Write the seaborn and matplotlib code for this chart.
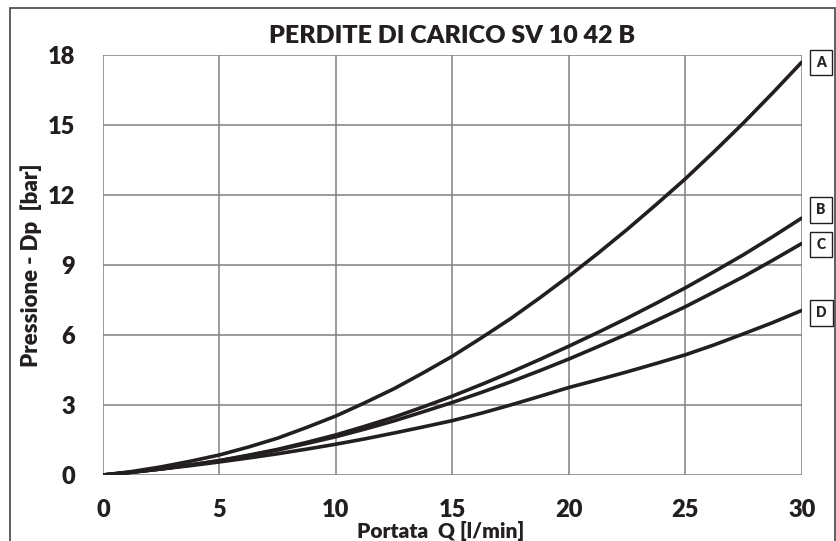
import pandas as pd
import seaborn as sns
import matplotlib.pyplot as plt
from matplotlib.patches import Rectangle

# portata Q [l/min]
portata = [0, 1.25, 2.5, 3.75, 5, 6.25, 7.5, 8.75, 10, 11.25, 12.5, 13.75, 15,
           16.25, 17.5, 18.75, 20, 21.25, 22.5, 23.75, 25, 26.25, 27.5, 28.75, 30]

# pressione Dp [bar]
curva_a = [0, 0.15, 0.35, 0.59, 0.86, 1.2, 1.58, 2.04, 2.53, 3.1, 3.7, 4.38, 5.09,
           5.88, 6.7, 7.59, 8.52, 9.5, 10.52, 11.59, 12.69, 13.87, 15.09, 16.37, 17.69]
curva_b = [0, 0.12, 0.26, 0.43, 0.62, 0.85, 1.1, 1.4, 1.72, 2.09, 2.48, 2.92, 3.38,
           3.88, 4.4, 4.95, 5.52, 6.11, 6.72, 7.36, 8.02, 8.72, 9.44, 10.21, 11.01]
curva_c = [0, 0.12, 0.26, 0.43, 0.61, 0.83, 1.07, 1.35, 1.64, 1.97, 2.32, 2.71, 3.11,
           3.54, 3.99, 4.47, 4.97, 5.5, 6.04, 6.62, 7.21, 7.85, 8.5, 9.2, 9.92]
curva_d = [0, 0.12, 0.26, 0.4, 0.56, 0.73, 0.91, 1.11, 1.32, 1.55, 1.8, 2.06, 2.33,
           2.65, 3.0, 3.37, 3.75, 4.08, 4.42, 4.78, 5.15, 5.58, 6.05, 6.53, 7.05]

nomi = ['A', 'B', 'C', 'D']
xticks = [0, 5, 10, 15, 20, 25, 30]
yticks = [0, 3, 6, 9, 12, 15, 18]

df = pd.DataFrame({
    'Q': portata * 4,
    'Dp': curva_a + curva_b + curva_c + curva_d,
    'curva': [n for n in nomi for _ in portata],
})

sns.set_style('white')
plt.rcParams['font.family'] = ['Lato', 'DejaVu Sans']

fig = plt.figure(figsize=(8.37, 5.41), dpi=100)
ax = fig.add_axes([0.1231, 0.122, 0.8347, 0.7763])

# outer frame of the picture (bottom edge falls outside)
fig.patches.append(Rectangle((0.012, -0.05), 0.986, 1.035, transform=fig.transFigure,
                             fill=False, edgecolor='#444444', linewidth=1.2))

sns.lineplot(data=df, x='Q', y='Dp', units='curva', estimator=None,
             color='#231f20', linewidth=2.6, ax=ax)

ax.set_xlim(0, 30)
ax.set_ylim(0, 18)
ax.set_xticks(xticks)
ax.set_yticks(yticks)
ax.grid(True, color='#808080', linewidth=1.1)
for s in ax.spines.values():
    s.set_visible(False)
ax.tick_params(axis='both', direction='out', length=8, width=1.1, color='#808080',
               labelsize=17, pad=12)
ax.tick_params(axis='x', pad=9)
for lab in ax.get_xticklabels() + ax.get_yticklabels():
    lab.set_fontweight('heavy')
    lab.set_color('#231f20')

ax.set_title('PERDITE DI CARICO SV 10 42 B', fontsize=18, fontweight='heavy',
             color='#231f20', pad=9)
ax.set_xlabel('Portata  Q [l/min]', fontsize=15, fontweight='heavy',
              color='#231f20', labelpad=-2)
ax.xaxis.set_label_coords(0.484, -0.11)
ax.set_ylabel('Pressione - Dp  [bar]', fontsize=16, fontweight='heavy',
              color='#231f20', labelpad=4)

finali = [curva_a[-1], curva_b[-1], curva_c[-1], curva_d[-1]]
spost = [0, 0.35, -0.05, -0.1]
for n, yv, dy in zip(nomi, finali, spost):
    ax.annotate(n, xy=(30, yv + dy), xytext=(14, 0), textcoords='offset points',
                ha='center', va='center', fontsize=10, fontweight='heavy',
                annotation_clip=False,
                bbox=dict(boxstyle='square,pad=0.45', facecolor='white',
                          edgecolor='#231f20', linewidth=1))

fig.savefig('out.png', dpi=100)
